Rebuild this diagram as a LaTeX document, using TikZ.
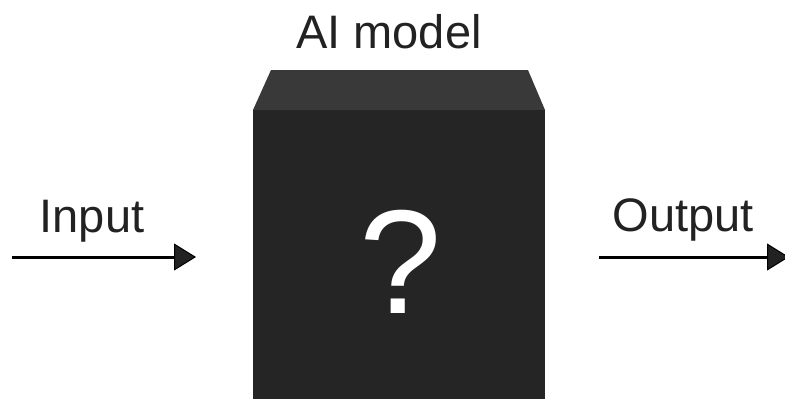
\documentclass[tikz,border=0pt]{standalone}
\usepackage{fontspec}
\setmainfont{Liberation Sans}
\usetikzlibrary{arrows.meta}
\definecolor{textgray}{HTML}{222222}
\definecolor{frontgray}{HTML}{252525}
\definecolor{topgray}{HTML}{393939}
\tikzset{
	label/.style={text=textgray,anchor=base,inner sep=0pt,font=\fontsize{47}{50}\selectfont},
	flow/.style={line width=3pt,-{Triangle[length=22pt,width=27pt,line width=1pt,fill=textgray]}},
}

\begin{document}
\begin{tikzpicture}[x=1pt,y=-1pt]
	\useasboundingbox (0,0) rectangle (785,399);

	% the box, seen slightly from above
	\fill[topgray] (253,110) -- (271,70) -- (528,70) -- (545,110) -- cycle;
	\fill[frontgray] (253,110) rectangle (545,399);
	\node[label,text=white,font=\fontsize{148}{150}\selectfont] (q) at (401,313) {?};

	\node[label] (model) at (389,48) {AI model};
	\node[label] (in) at (92,232) {Input};
	\node[label] (out) at (683,231) {Output};

	\coordinate (a1) at (12,257);
	\coordinate (a2) at (196,257);
	\coordinate (b1) at (599,257);
	\coordinate (b2) at (789,257);
	\draw[flow] (a1) -- (a2);
	\draw[flow] (b1) -- (b2);
\end{tikzpicture}
\end{document}
